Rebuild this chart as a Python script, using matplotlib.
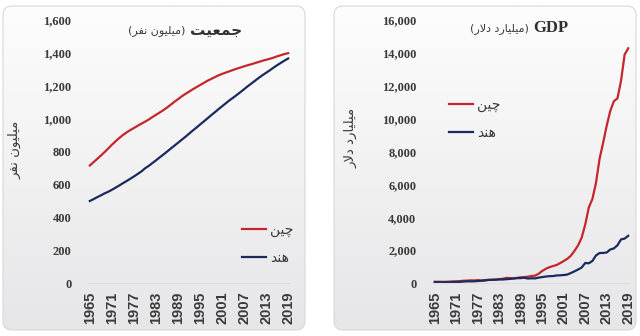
import numpy as np
import matplotlib
matplotlib.use("Agg")
import matplotlib.pyplot as plt
from matplotlib.patches import FancyBboxPatch

years = list(range(1965, 2020))
pop_china = [715, 735, 755, 775, 796, 818, 841, 862, 882, 900,
             916, 930, 943, 956, 969, 981, 994, 1009, 1023, 1037,
             1051, 1067, 1084, 1102, 1118, 1135, 1150, 1164, 1178, 1191,
             1204, 1217, 1230, 1241, 1252, 1263, 1272, 1280, 1288, 1296,
             1304, 1311, 1318, 1325, 1331, 1338, 1345, 1352, 1358, 1364,
             1371, 1379, 1386, 1393, 1398]
pop_india = [499, 510, 522, 533, 545, 555, 567, 580, 593, 607,
             620, 634, 648, 663, 678, 697, 712, 729, 746, 764,
             781, 799, 817, 835, 853, 871, 889, 908, 927, 945,
             964, 982, 1001, 1020, 1038, 1057, 1075, 1093, 1111, 1127,
             1144, 1161, 1179, 1197, 1214, 1231, 1248, 1264, 1279, 1294,
             1310, 1325, 1339, 1353, 1366]
gdp_china = [70, 76, 73, 71, 80, 93, 100, 114, 139, 144,
             163, 154, 175, 150, 178, 191, 196, 205, 231, 260,
             310, 301, 274, 313, 348, 361, 383, 427, 445, 564,
             734, 864, 962, 1029, 1094, 1211, 1339, 1471, 1660, 1955,
             2286, 2752, 3552, 4598, 5110, 6087, 7552, 8532, 9570, 10476,
             11062, 11233, 12310, 13895, 14280]
gdp_india = [60, 46, 50, 53, 58, 63, 67, 71, 85, 100,
             99, 103, 121, 137, 153, 186, 193, 201, 219, 212,
             232, 248, 279, 296, 296, 321, 270, 288, 279, 327,
             360, 393, 415, 421, 459, 468, 485, 515, 608, 709,
             820, 940, 1217, 1199, 1342, 1676, 1823, 1828, 1857, 2039,
             2104, 2295, 2651, 2701, 2871]
xticks = [1965, 1971, 1977, 1983, 1989, 1995, 2001, 2007, 2013, 2019]
pop_yticks = [0, 200, 400, 600, 800, 1000, 1200, 1400, 1600]
gdp_yticks = [0, 2000, 4000, 6000, 8000, 10000, 12000, 14000, 16000]

t_china = "چین"
t_india = "هند"
t_pop = "جمعیت"
t_pop_unit = "میلیون نفر"
t_gdp = "GDP"
t_gdp_unit = "میلیارد دلار"

# minimal Persian shaping (isolated, final, initial, medial)
FORMS = {
    'ا': ('\uFE8D', '\uFE8E', None, None),
    'د': ('\uFEA9', '\uFEAA', None, None),
    'ر': ('\uFEAD', '\uFEAE', None, None),
    'و': ('\uFEED', '\uFEEE', None, None),
    'ت': ('\uFE95', '\uFE96', '\uFE97', '\uFE98'),
    'ج': ('\uFE9D', '\uFE9E', '\uFE9F', '\uFEA0'),
    'ع': ('\uFEC9', '\uFECA', '\uFECB', '\uFECC'),
    'ف': ('\uFED1', '\uFED2', '\uFED3', '\uFED4'),
    'ل': ('\uFEDD', '\uFEDE', '\uFEDF', '\uFEE0'),
    'م': ('\uFEE1', '\uFEE2', '\uFEE3', '\uFEE4'),
    'ن': ('\uFEE5', '\uFEE6', '\uFEE7', '\uFEE8'),
    'ه': ('\uFEE9', '\uFEEA', '\uFEEB', '\uFEEC'),
    'ی': ('\uFBFC', '\uFBFD', '\uFBFE', '\uFBFF'),
    'چ': ('\uFB7A', '\uFB7B', '\uFB7C', '\uFB7D'),
}


def dual(c):
    return c in FORMS and FORMS[c][2] is not None


def shape(s):
    out = []
    i = 0
    n = len(s)
    while i < n:
        c = s[i]
        if c not in FORMS:
            out.append(c)
            i += 1
            continue
        prev = s[i - 1] if i > 0 else ''
        jp = dual(prev)
        if c == 'ل' and i + 1 < n and s[i + 1] == 'ا':
            out.append('\uFEFC' if jp else '\uFEFB')
            i += 2
            continue
        nxt = s[i + 1] if i + 1 < n else ''
        jn = dual(c) and nxt in FORMS
        f = FORMS[c]
        if jp and jn:
            out.append(f[3])
        elif jp:
            out.append(f[1])
        elif jn:
            out.append(f[2])
        else:
            out.append(f[0])
        i += 1
    return ''.join(out)[::-1]


AR = ['DejaVu Sans']
RED = '#c5262c'
BLUE = '#1a2a5e'
TXT = '#3a3a3a'

W, H = 640, 336
fig = plt.figure(figsize=(6.4, 3.36), dpi=100)

# background panels
bg = fig.add_axes([0, 0, 1, 1])
bg.set_xlim(0, W)
bg.set_ylim(H, 0)
bg.axis('off')
grad = np.linspace(0, 1, 256).reshape(-1, 1)
cmap = matplotlib.colors.LinearSegmentedColormap.from_list('g', ['#fdfdfd', '#e6e6e8'])
for (x0, x1) in [(3, 305), (334, 636)]:
    patch = FancyBboxPatch((x0, 6), x1 - x0, 324, boxstyle='round,pad=0,rounding_size=9',
                           fc='none', ec='#d8d8d8', lw=0.8)
    bg.add_patch(patch)
    im = bg.imshow(grad, extent=(x0, x1, 330, 6), cmap=cmap, aspect='auto', zorder=0)
    im.set_clip_path(patch)


def make_axes(left_px, right_px, ylim, yticks, china, india):
    ax = fig.add_axes([left_px / W, (H - 283) / H, (right_px - left_px) / W, (283 - 20) / H])
    ax.patch.set_alpha(0)
    ax.plot(years, china, color=RED, lw=1.6, label=shape(t_china))
    ax.plot(years, india, color=BLUE, lw=1.6, label=shape(t_india))
    ax.set_xlim(1964.5, 2019.5)
    ax.set_ylim(ylim)
    for s in ['top', 'right', 'left']:
        ax.spines[s].set_visible(False)
    ax.spines['bottom'].set_color('#dcdcdc')
    ax.spines['bottom'].set_linewidth(0.8)
    ax.set_xticks(xticks)
    ax.set_xticklabels([str(x) for x in xticks], rotation=90,
                       fontfamily='Liberation Sans', fontweight='bold', fontsize=10.5, color=TXT)
    ax.set_yticks(yticks)
    ax.set_yticklabels([f"{v:,}" for v in yticks], fontfamily='Liberation Serif',
                       fontweight='bold', fontsize=9, color=TXT)
    ax.tick_params(axis='both', length=0)
    ax.tick_params(axis='y', pad=12)
    ax.tick_params(axis='x', pad=6)
    return ax


ax1 = make_axes(88, 290, (0, 1600), pop_yticks, pop_china, pop_india)
ax2 = make_axes(433, 630, (0, 16000), gdp_yticks, gdp_china, gdp_india)

leg_kw = dict(frameon=False, handlelength=1.7, handletextpad=0.3, labelspacing=1.0,
              prop={'family': AR, 'size': 10})
l1 = ax1.legend(loc='upper left', bbox_to_anchor=(0.70, 0.275), **leg_kw)
l2 = ax2.legend(loc='upper left', bbox_to_anchor=(0.02, 0.75), **leg_kw)
for lg in (l1, l2):
    for t in lg.get_texts():
        t.set_color(TXT)

# titles
t1 = fig.text(242 / W, 1 - 30 / H, shape(t_pop), family=AR, fontweight='bold',
              fontsize=11, color='#303030', ha='right', va='center')
fig.canvas.draw()
ax1.annotate('(' + shape(t_pop_unit) + ')', xy=(0, 0.45), xycoords=t1, xytext=(-3, 0),
             textcoords='offset points', ha='right', va='center', family=AR,
             fontsize=8, color=TXT)
t2 = fig.text(568 / W, 1 - 28 / H, t_gdp, family='Liberation Serif', fontweight='bold',
              fontsize=12, color='#303030', ha='right', va='center')
ax2.annotate('(' + shape(t_gdp_unit) + ')', xy=(0, 0.45), xycoords=t2, xytext=(-3, 0),
             textcoords='offset points', ha='right', va='center', family=AR,
             fontsize=8, color=TXT)

# y-axis titles
fig.text(15 / W, 1 - 150 / H, shape(t_pop_unit), rotation=90, family=AR, fontsize=9.5,
         color=TXT, ha='center', va='center')
fig.text(351 / W, 1 - 138 / H, shape(t_gdp_unit), rotation=90, family=AR, fontsize=9.5,
         color=TXT, ha='center', va='center')

fig.savefig('out.png', dpi=100)
